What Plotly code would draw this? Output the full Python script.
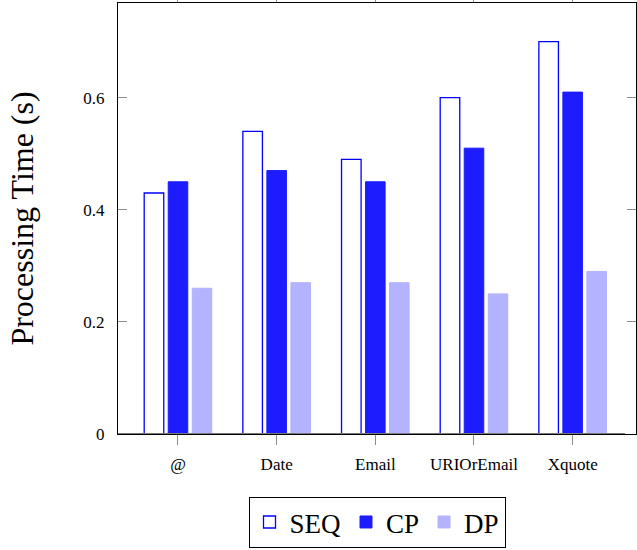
import plotly.graph_objects as go

# Processing time per pattern for the three execution strategies
categories = ["@", "Date", "Email", "URIOrEmail", "Xquote"]
seq_times = [0.43, 0.54, 0.49, 0.60, 0.70]
cp_times = [0.45, 0.47, 0.45, 0.51, 0.61]
dp_times = [0.26, 0.27, 0.27, 0.25, 0.29]
y_ticks = [0, 0.2, 0.4, 0.6]
y_tick_text = ["0", "0.2", "0.4", "0.6"]

FONT = "Liberation Serif"
TICK_GREY = "#8c8c8c"

fig = go.Figure()
fig.add_trace(go.Bar(
    name="SEQ", x=categories, y=seq_times,
    marker=dict(color="white", line=dict(color="#0000ff", width=1.3)),
))
fig.add_trace(go.Bar(
    name="CP", x=categories, y=cp_times,
    marker=dict(color="#1c1cff", line=dict(color="#1c1cff", width=1)),
))
fig.add_trace(go.Bar(
    name="DP", x=categories, y=dp_times,
    marker=dict(color="#b3b3ff", line=dict(color="#b3b3ff", width=1)),
))

fig.update_layout(
    width=637, height=550,
    margin=dict(l=118, r=1, t=3, b=116, autoexpand=False),
    paper_bgcolor="white", plot_bgcolor="white",
    barmode="group", bargap=0.27, bargroupgap=0.185,
    font=dict(family=FONT, color="black"),
    showlegend=True,
    legend=dict(
        orientation="h", x=0.5, xanchor="center", y=-0.146, yanchor="top",
        font=dict(family=FONT, size=27, color="black"),
        bordercolor="black", borderwidth=1, bgcolor="white",
        itemwidth=30, tracegroupgap=0,
    ),
    xaxis=dict(
        type="category", range=[-0.608, 4.642], automargin=False,
        showline=True, linecolor="black", linewidth=1.2, mirror="ticks",
        ticks="outside", ticklen=10, tickcolor=TICK_GREY, tickwidth=1,
        tickfont=dict(family=FONT, size=17, color="black"),
        ticklabelstandoff=4,
        showgrid=False, zeroline=False,
    ),
    yaxis=dict(
        range=[0, 0.769], automargin=False,
        tickvals=y_ticks, ticktext=y_tick_text,
        showline=True, linecolor="black", linewidth=1.2, mirror="ticks",
        ticks="inside", ticklen=9, tickcolor=TICK_GREY, tickwidth=1,
        tickfont=dict(family=FONT, size=17, color="black"),
        ticklabelstandoff=9,
        showgrid=False, zeroline=False,
        title=dict(text="Processing Time (s)", standoff=40,
                   font=dict(family=FONT, size=32, color="black")),
    ),
)

# grey baseline along y = 0
fig.add_shape(type="line", xref="paper", yref="y", x0=0, x1=0.979, y0=0, y1=0,
              line=dict(color="#777777", width=2), layer="above")

fig.write_html("out.html")
